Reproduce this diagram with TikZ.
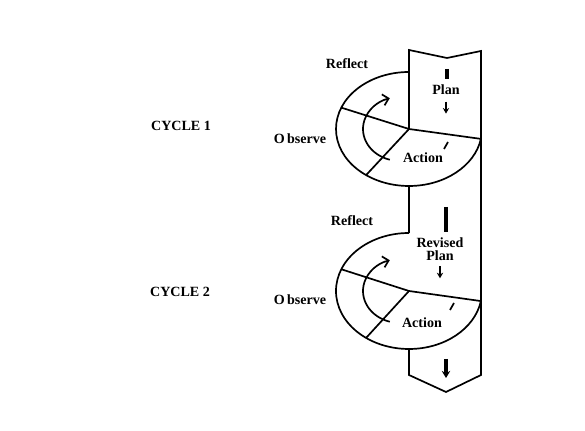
\documentclass[tikz,border=0pt]{standalone}
\usepackage{fontspec}
\setmainfont{Liberation Serif}
\usetikzlibrary{arrows.meta, calc}
\tikzset{
  edge/.style={line width=1.2pt, line join=miter},
  lbl/.style={font=\bfseries\fontsize{10}{9.5}\selectfont, inner sep=1pt, align=center},
  bar/.style={line width=2.2pt},
  turn/.style={line width=1.2pt, -{Straight Barb[length=4pt,width=8pt]}},
  down/.style={line width=1pt, -{Stealth[length=4pt,width=4.5pt]}}
}

\begin{document}
\begin{tikzpicture}[x=0.025cm, y=0.025cm]
  \useasboundingbox (0,0) rectangle (585,431);

  \coordinate (ctrA) at (409,302);
  \coordinate (ctrB) at (409,140);

  % the band running down the right
  \draw[edge] (ctrA) -- (409,381) -- (447,373) -- (481,380) -- (481,56)
    -- (446,39) -- (409,56) -- (409,82);
  \draw[edge] (409,245) -- (409,198);

  % cycle 1
  \draw[edge] ([shift={(90:73 and 57)}]ctrA) arc[start angle=90, end angle=350, x radius=73, y radius=57];
  \draw[edge] ([shift={(158:73 and 57)}]ctrA) -- (ctrA) -- ([shift={(350:73 and 57)}]ctrA);
  \draw[edge] (ctrA) -- ([shift={(234:73 and 57)}]ctrA);
  \draw[turn] ([shift={(-9,0)}]ctrA) ++(254:37 and 32) arc[start angle=254, end angle=106, x radius=37, y radius=32];
  \draw[edge] ([shift={(35,-20)}]ctrA) -- ++(4,7);

  \node[lbl] (reflectA) at (347,367) {Reflect};
  \node[lbl] (planA) at (446,341) {Plan};
  \node[lbl] (actionA) at (423,273) {Action};
  \node[lbl] (observeA) at (300,292) {O\kern1.5pt bserve};
  \node[lbl] (cycleA) at (181,305) {CYCLE 1};
  \draw[bar] (447,362) -- (447,352);
  \draw[down] ($(planA.south)+(0,-5)$) -- ++(0,-12);

  % cycle 2
  \draw[edge] ([shift={(90:73 and 58)}]ctrB) arc[start angle=90, end angle=350, x radius=73, y radius=58];
  \draw[edge] ([shift={(158:73 and 58)}]ctrB) -- (ctrB) -- ([shift={(350:73 and 58)}]ctrB);
  \draw[edge] (ctrB) -- ([shift={(234:73 and 58)}]ctrB);
  \draw[turn] ([shift={(-9,0)}]ctrB) ++(254:37 and 32) arc[start angle=254, end angle=106, x radius=37, y radius=32];
  \draw[edge] ([shift={(41,-19)}]ctrB) -- ++(4,7);

  \node[lbl] (reflectB) at (352,210) {Reflect};
  \node[lbl] (planB) at (440,182) {Revised\\Plan};
  \node[lbl] (actionB) at (422,108) {Action};
  \node[lbl] (observeB) at (300,131) {O\kern1.5pt bserve};
  \node[lbl] (cycleB) at (180,139) {CYCLE 2};
  \draw[bar] (446,224) -- (446,199);
  \draw[down] ($(planB.south)+(0,-4)$) -- ++(0,-12);
  \draw[bar, -{Stealth[length=5pt,width=6pt]}] (446,72) -- (446,53);
\end{tikzpicture}
\end{document}
